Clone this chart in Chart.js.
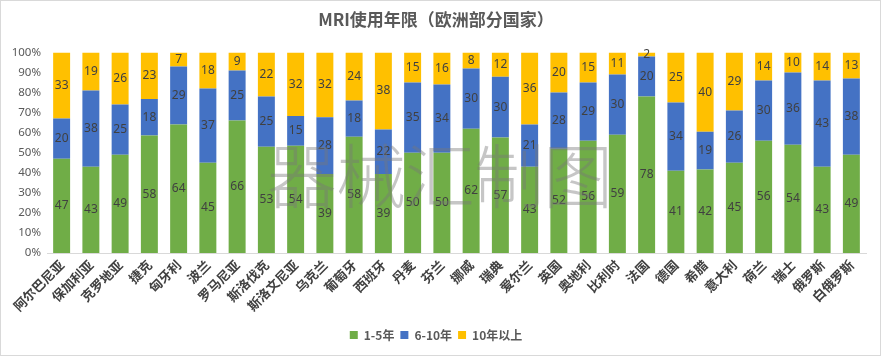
<!DOCTYPE html>
<html>
<head>
<meta charset="utf-8">
<script src="https://cdn.jsdelivr.net/npm/chart.js@4.4.1/dist/chart.umd.min.js"></script>
<style>
html,body{margin:0;padding:0;background:#fff;}
#wrap{width:881px;height:356px;position:relative;}
</style>
</head>
<body>
<div id="wrap"><canvas id="c" width="881" height="356"></canvas></div>
<script>
const categories = ['阿尔巴尼亚','保加利亚','克罗地亚','捷克','匈牙利','波兰','罗马尼亚','斯洛伐克','斯洛文尼亚','乌克兰','葡萄牙','西班牙','丹麦','芬兰','挪威','瑞典','爱尔兰','英国','奥地利','比利时','法国','德国','希腊','意大利','荷兰','瑞士','俄罗斯','白俄罗斯'];
const years1to5 = [47,43,49,58,64,45,66,53,54,39,58,39,50,50,62,57,43,52,56,59,78,41,42,45,56,54,43,49];
const years6to10 = [20,38,25,18,29,37,25,25,15,28,18,22,35,34,30,30,21,28,29,30,20,34,19,26,30,36,43,38];
const years10plus = [33,19,26,23,7,18,9,22,32,32,24,38,15,16,8,12,36,20,15,11,2,25,40,29,14,10,14,13];
const seriesNames = ['1-5年','6-10年','10年以上'];
const yTicks = [0,10,20,30,40,50,60,70,80,90,100];

const raw = [years1to5, years6to10, years10plus];
const totals = categories.map((_, i) => raw[0][i] + raw[1][i] + raw[2][i]);
const pct = raw.map(arr => arr.map((v, i) => v / totals[i] * 100));
const colors = ['#70AD47','#4472C4','#FFC000'];

const labelPlugin = {
  id: 'segLabels',
  afterDatasetsDraw(chart) {
    const ctx = chart.ctx;
    ctx.save();
    ctx.font = '12px "Noto Sans", "DejaVu Sans", sans-serif';
    ctx.fillStyle = '#404040';
    ctx.textAlign = 'center';
    ctx.textBaseline = 'middle';
    chart.data.datasets.forEach((ds, di) => {
      const meta = chart.getDatasetMeta(di);
      meta.data.forEach((bar, i) => {
        const p = bar.getProps(['x','y','base'], true);
        const cy = (p.y + p.base) / 2;
        ctx.fillText(String(raw[di][i]), p.x, cy);
      });
    });
    ctx.restore();
  }
};

const decorPlugin = {
  id: 'decor',
  afterDraw(chart) {
    const ctx = chart.ctx;
    ctx.save();
    ctx.font = '300 70px "Noto Sans CJK SC", sans-serif';
    ctx.fillStyle = 'rgba(120,120,120,0.42)';
    ctx.textAlign = 'center';
    ctx.textBaseline = 'middle';
    const txt = '器械汇制图';
    const step = 69;
    const x0 = 440 - step * 2;
    for (let k = 0; k < txt.length; k++) {
      ctx.fillText(txt[k], x0 + k * step, 176);
    }
    ctx.strokeStyle = '#D9D9D9';
    ctx.lineWidth = 1;
    ctx.strokeRect(0.5, 0.5, 880, 355);
    ctx.restore();
  }
};

new Chart(document.getElementById('c'), {
  type: 'bar',
  data: {
    labels: categories,
    datasets: seriesNames.map((name, k) => ({
      label: name,
      data: pct[k],
      backgroundColor: colors[k],
      borderWidth: 0,
      categoryPercentage: 0.58,
      barPercentage: 1.0
    }))
  },
  options: {
    responsive: false,
    animation: false,
    devicePixelRatio: 1,
    layout: { padding: { left: 6, right: 15, top: 8, bottom: 5 } },
    plugins: {
      title: {
        display: true,
        text: 'MRI使用年限（欧洲部分国家）',
        color: '#595959',
        font: { family: '"Noto Sans CJK SC", sans-serif', size: 17, weight: 'bold' },
        padding: { top: 1, bottom: 23 }
      },
      legend: {
        position: 'bottom',
        labels: {
          boxWidth: 8, boxHeight: 8, padding: 6,
          color: '#595959',
          font: { family: '"Noto Sans CJK SC", sans-serif', size: 12, weight: 'bold' }
        }
      },
      tooltip: { enabled: false }
    },
    scales: {
      x: {
        stacked: true,
        grid: { display: false, drawTicks: false },
        border: { color: '#D9D9D9' },
        afterFit(axis) { axis.height = 70; },
        ticks: {
          color: '#404040',
          autoSkip: false,
          maxRotation: 45, minRotation: 45,
          padding: 4,
          font: { family: '"Noto Sans CJK SC", sans-serif', size: 13, weight: 'bold' }
        }
      },
      y: {
        stacked: true,
        min: 0, max: 100,
        afterBuildTicks(axis) { axis.ticks = yTicks.map(v => ({ value: v })); },
        afterFit(axis) { axis.width = 41; },
        grid: { display: false, drawTicks: false },
        border: { display: false },
        ticks: {
          color: '#595959',
          padding: 6,
          font: { family: '"Noto Sans", sans-serif', size: 11.5 },
          callback: v => v + '%'
        }
      }
    }
  },
  plugins: [labelPlugin, decorPlugin]
});
</script>
</body>
</html>
